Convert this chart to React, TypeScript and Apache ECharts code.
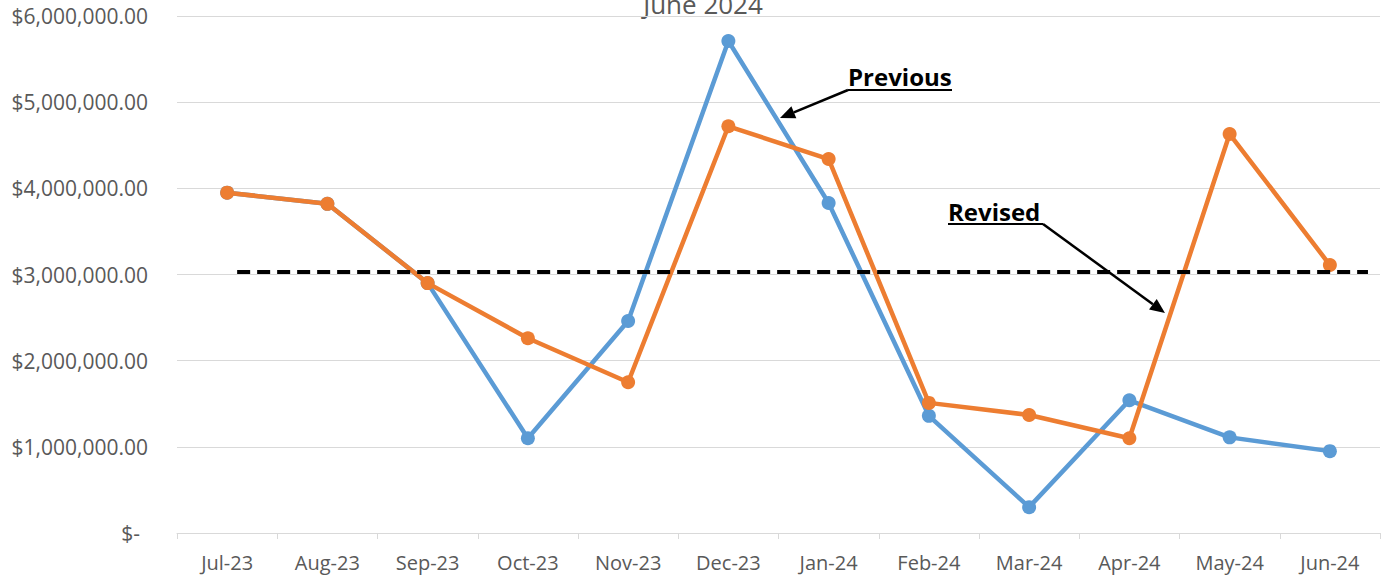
import React, { useEffect, useRef } from "react";
import * as echarts from "echarts";

const months = ["Jul-23", "Aug-23", "Sep-23", "Oct-23", "Nov-23", "Dec-23", "Jan-24", "Feb-24", "Mar-24", "Apr-24", "May-24", "Jun-24"];
const previousValues = [3950000, 3820000, 2900000, 1100000, 2460000, 5710000, 3830000, 1360000, 300000, 1540000, 1110000, 950000];
const revisedValues = [3950000, 3820000, 2900000, 2260000, 1750000, 4720000, 4340000, 1510000, 1370000, 1100000, 4630000, 3110000];
const averageLevel = 3030000;
const averageSpan = [0.6, 11.88];
const yTicks = { min: 0, max: 6000000, interval: 1000000 };

const FONT = "'Open Sans', 'Noto Sans', sans-serif";
const GRAY = "#595959";

function fmt(v: number): string {
  if (v === 0) return "{z|$-}";
  return "$" + v.toLocaleString("en-US", { minimumFractionDigits: 2, maximumFractionDigits: 2 });
}

function arrowHead(tx: number, ty: number, fx: number, fy: number, len: number, half: number) {
  const dx = tx - fx, dy = ty - fy;
  const L = Math.hypot(dx, dy);
  const ux = dx / L, uy = dy / L;
  const bx = tx - ux * len, by = ty - uy * len;
  const px = -uy * half, py = ux * half;
  return {
    base: [bx, by],
    points: [[tx, ty], [bx + px, by + py], [bx - px, by - py]],
  };
}

export default function App() {
  const ref = useRef<HTMLDivElement>(null);
  useEffect(() => {
    if (!ref.current) return;
    const chart = echarts.init(ref.current, null, { renderer: "svg" });
    const prevArrow = arrowHead(780, 118, 848, 90, 15, 6.5);
    const revArrow = arrowHead(1165, 313, 1043, 224, 15, 6.5);
    chart.setOption({
      animation: false,
      backgroundColor: "#ffffff",
      grid: { left: 177, right: 2, top: 16, bottom: 43, containLabel: false },
      xAxis: [
        {
          type: "category",
          data: months,
          boundaryGap: true,
          axisLine: { show: true, lineStyle: { color: "#d9d9d9", width: 1 } },
          axisTick: { show: true, length: 6, lineStyle: { color: "#d9d9d9" } },
          axisLabel: { color: GRAY, fontFamily: FONT, fontSize: 20, margin: 19 },
          splitLine: { show: false },
        },
        {
          type: "value",
          min: 0,
          max: 12,
          show: false,
          position: "bottom",
        },
      ],
      yAxis: {
        type: "value",
        min: yTicks.min,
        max: yTicks.max,
        interval: yTicks.interval,
        axisLine: { show: false },
        axisTick: { show: false },
        splitLine: { lineStyle: { color: "#d9d9d9", width: 1 } },
        axisLabel: {
          color: GRAY,
          fontFamily: FONT,
          fontSize: 21,
          margin: 29,
          formatter: fmt,
          rich: { z: { color: GRAY, fontFamily: FONT, fontSize: 21, padding: [0, 8, 0, 0] } },
        },
      },
      series: [
        {
          name: "Previous",
          type: "line",
          data: previousValues,
          symbol: "circle",
          symbolSize: 14,
          lineStyle: { color: "#5B9BD5", width: 4.5 },
          itemStyle: { color: "#5B9BD5" },
          z: 3,
        },
        {
          name: "Revised",
          type: "line",
          data: revisedValues,
          symbol: "circle",
          symbolSize: 14,
          lineStyle: { color: "#ED7D31", width: 4.5 },
          itemStyle: { color: "#ED7D31" },
          z: 4,
        },
        {
          name: "Average",
          type: "line",
          xAxisIndex: 1,
          data: averageSpan.map((x) => [x, averageLevel]),
          symbol: "none",
          lineStyle: { color: "#000000", width: 4, type: [13, 7] },
          z: 5,
        },
      ],
      graphic: [
        {
          type: "text",
          x: 703,
          y: 4,
          style: { text: "June 2024", fill: GRAY, font: `26px ${FONT}`, align: "center", verticalAlign: "middle" },
        },
        {
          type: "text",
          x: 848,
          y: 76,
          style: { text: "Previous", fill: "#000", font: `bold 24px ${FONT}`, align: "left", verticalAlign: "middle" },
          z: 20,
        },
        { type: "line", shape: { x1: 848, y1: 90, x2: 952, y2: 90 }, style: { stroke: "#000", lineWidth: 2 }, z: 20 },
        { type: "line", shape: { x1: 848, y1: 90, x2: prevArrow.base[0], y2: prevArrow.base[1] }, style: { stroke: "#000", lineWidth: 2.5 }, z: 20 },
        { type: "polygon", shape: { points: prevArrow.points }, style: { fill: "#000" }, z: 20 },
        {
          type: "text",
          x: 948,
          y: 211,
          style: { text: "Revised", fill: "#000", font: `bold 24px ${FONT}`, align: "left", verticalAlign: "middle" },
          z: 20,
        },
        { type: "line", shape: { x1: 948, y1: 224, x2: 1043, y2: 224 }, style: { stroke: "#000", lineWidth: 2 }, z: 20 },
        { type: "line", shape: { x1: 1043, y1: 224, x2: revArrow.base[0], y2: revArrow.base[1] }, style: { stroke: "#000", lineWidth: 2.5 }, z: 20 },
        { type: "polygon", shape: { points: revArrow.points }, style: { fill: "#000" }, z: 20 },
      ],
    });
    return () => chart.dispose();
  }, []);
  return <div ref={ref} style={{ position: "absolute", left: 0, top: 0, width: 1382, height: 576 }} />;
}
